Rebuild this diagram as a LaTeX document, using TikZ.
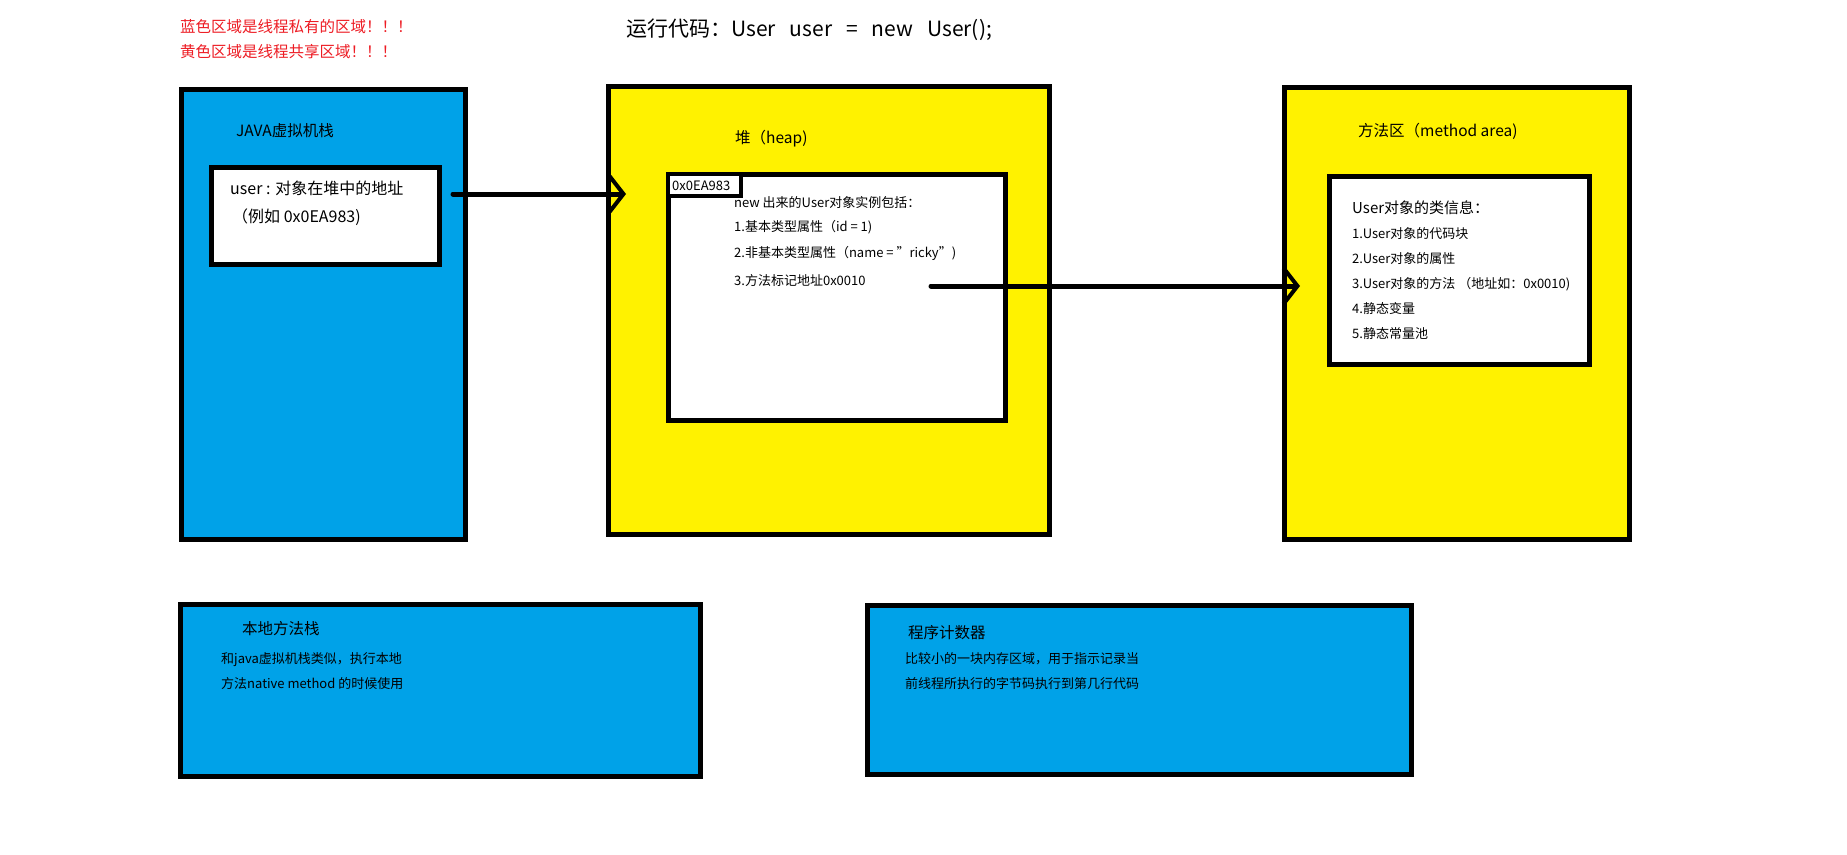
\documentclass[tikz,border=0pt]{standalone}
\usepackage{fontspec}
\setmainfont{Noto Sans CJK SC}[Ligatures=ResetAll]
\usetikzlibrary{arrows.meta}
\definecolor{privateblue}{RGB}{0,162,232}
\definecolor{sharedyellow}{RGB}{255,242,0}
\definecolor{notered}{RGB}{237,28,36}

\begin{document}
\begin{tikzpicture}[x=1pt, y=-1pt,
box_style/.style={rectangle,draw=black,line width=5pt,anchor=north west,inner sep=0pt},
blue_style/.style={box_style,fill=privateblue},
yellow_style/.style={box_style,fill=sharedyellow},
white_style/.style={box_style,fill=white},
text_style/.style={anchor=west,inner sep=0pt,font=\fontsize{13}{15}\selectfont},
title_style/.style={anchor=west,inner sep=0pt,font=\fontsize{15.5}{18}\selectfont},
note_style/.style={anchor=west,inner sep=0pt,text=notered,font=\fontsize{15.5}{18}\selectfont},
edge_style/.style={draw=black,line width=5pt,line cap=round,-{Straight Barb[length=14pt,width=36pt,line width=4pt]}}]

\useasboundingbox (0,0) rectangle (1847,854);

% notes on top
\node[note_style] (note1) at (180,27) {蓝色区域是线程私有的区域！！！};
\node[note_style] (note2) at (180,52) {黄色区域是线程共享区域！！！};
\node[anchor=west,inner sep=0pt,font=\fontsize{21}{25}\selectfont] (code) at (626,30)
  {运行代码：User\hspace{14pt}user\hspace{14pt}=\hspace{14pt}new\hspace{14pt}User();};

% thread private: java stack
\node[blue_style,minimum width=284pt,minimum height=450pt] (jvmstack) at (179,87) {};
\node[title_style] (jvmtitle) at (236,131) {JAVA虚拟机栈};
\node[white_style,minimum width=228pt,minimum height=97pt] (userref) at (209,165) {};
\node[anchor=west,inner sep=0pt,font=\fontsize{16}{19}\selectfont] (userline1) at (230,188) {user : 对象在堆中的地址};
\node[anchor=west,inner sep=0pt,font=\fontsize{16}{19}\selectfont] (userline2) at (232,217) {（例如 0x0EA983)};

% heap
\node[yellow_style,minimum width=441pt,minimum height=448pt] (heap) at (606,84) {};
\node[title_style] (heaptitle) at (735,139) {堆（heap)};
\node[white_style,minimum width=337pt,minimum height=246pt] (objbox) at (666,172) {};
\node[box_style,fill=white,line width=4pt,minimum width=73pt,minimum height=22pt] (addrbox) at (666,172) {};
\node[text_style] (addr) at (672,186) {0x0EA983};
\node[text_style] (obj0) at (734,203) {new 出来的User对象实例包括：};
\node[text_style] (obj1) at (734,227) {1.基本类型属性（id = 1)};
\node[text_style] (obj2) at (734,253) {2.非基本类型属性（name = "ricky")};
\node[text_style] (obj3) at (734,281) {3.方法标记地址0x0010};

% method area
\node[yellow_style,minimum width=345pt,minimum height=452pt] (methodarea) at (1282,85) {};
\node[title_style] (methodtitle) at (1358,131) {方法区（method area)};
\node[white_style,minimum width=260pt,minimum height=188pt] (classinfo) at (1327,174) {};
\node[anchor=west,inner sep=0pt,font=\fontsize{15}{18}\selectfont] (cls0) at (1352,208) {User对象的类信息：};
\node[text_style] (cls1) at (1352,234) {1.User对象的代码块};
\node[text_style] (cls2) at (1352,259) {2.User对象的属性};
\node[text_style] (cls3) at (1352,284) {3.User对象的方法 （地址如：0x0010)};
\node[text_style] (cls4) at (1352,309) {4.静态变量};
\node[text_style] (cls5) at (1352,334) {5.静态常量池};

% native stack and program counter
\node[blue_style,minimum width=520pt,minimum height=172pt] (nativestack) at (178,602) {};
\node[title_style] (nativetitle) at (242,629) {本地方法栈};
\node[text_style] (native1) at (221,660) {和java虚拟机栈类似，执行本地};
\node[text_style] (native2) at (221,684) {方法native method 的时候使用};

\node[blue_style,minimum width=544pt,minimum height=169pt] (pcounter) at (865,603) {};
\node[title_style] (pctitle) at (908,633) {程序计数器};
\node[text_style] (pc1) at (905,659) {比较小的一块内存区域，用于指示记录当};
\node[text_style] (pc2) at (905,684) {前线程所执行的字节码执行到第几行代码};

% references
\coordinate (reftail) at (453,194);
\coordinate (refhead) at (626,194);
\coordinate (methtail) at (931,286);
\coordinate (methhead) at (1300,286);
\draw[edge_style] (reftail) -- (refhead);
\draw[edge_style] (methtail) -- (methhead);

\end{tikzpicture}
\end{document}
